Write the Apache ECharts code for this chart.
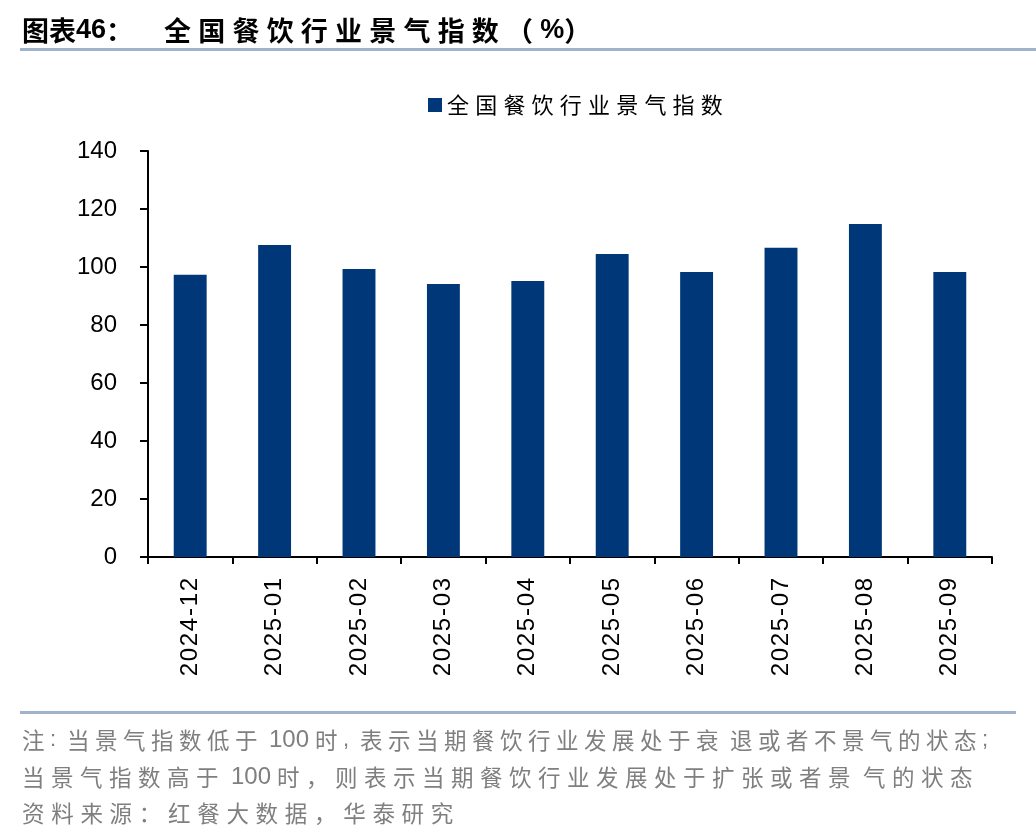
<!DOCTYPE html>
<html><head><meta charset="utf-8">
<script src="https://cdn.jsdelivr.net/npm/echarts@6/dist/echarts.min.js"></script>
<style>html,body{margin:0;padding:0;background:#fff}#c{width:1036px;height:840px}</style>
</head><body><div id="c"></div>
<script>
const categories = ['2024-12','2025-01','2025-02','2025-03','2025-04','2025-05','2025-06','2025-07','2025-08','2025-09'];
const indexValues = [97.3, 107.6, 99.3, 94.1, 95.2, 104.5, 98.3, 106.6, 114.8, 98.3];
const yTicks = [0, 20, 40, 60, 80, 100, 120, 140];
const seriesName = '全国餐饮行业景气指数';
const titleHead = '图表46：';
const titleBody = '全国餐饮行业景气指数（%）';
const footLines = [
  '注:当景气指数低于 100 时,表示当期餐饮行业发展处于衰 退或者不景气的状态;',
  '当景气指数高于 100 时，则表示当期餐饮行业发展处于扩张或者景 气的状态',
  '资料来源：红餐大数据，华泰研究'
];

const CJK = '"Noto Sans CJK SC", sans-serif';
const LAT = '"Liberation Sans", Arial, sans-serif';

// split a string into rich-text tokens: wide chars one by one, latin runs grouped
function richify(str) {
  const out = [];
  let run = '';
  const flush = () => { if (run) { out.push('{a|' + run + '}'); run = ''; } };
  for (const ch of str) {
    const code = ch.codePointAt(0);
    if (ch === ' ') { flush(); out.push('{s|\u00a0}'); }
    else if (':,;'.includes(ch)) { flush(); out.push('{p|' + ch + '}'); }
    else if (code > 0x2e80) { flush(); out.push('{c|' + ch + '}'); }
    else run += ch;
  }
  flush();
  return out.join('');
}
function footRich(pitch) {
  return {
    c: {width: pitch, fontFamily: CJK, fontSize: 22.5, fill: '#7f7f7f', lineHeight: 27},
    a: {fontFamily: LAT, fontSize: 24, fill: '#7f7f7f', lineHeight: 27},
    s: {width: 6, fontFamily: LAT, fontSize: 20, fill: '#7f7f7f', lineHeight: 27},
    p: {width: 17, fontFamily: LAT, fontSize: 22, fill: '#7f7f7f', lineHeight: 27}
  };
}

const chart = echarts.init(document.getElementById('c'));
chart.setOption({
  backgroundColor: '#fff',
  animation: false,
  legend: {
    data: [seriesName], left: 423, top: 89, itemWidth: 14, itemHeight: 14,
    icon: 'rect',
    formatter: name => name.split('').map(c => '{c|' + c + '}').join(''),
    textStyle: {rich: {c: {width: 28.2, fontFamily: CJK, fontSize: 22, color: '#000', lineHeight: 26}}}
  },
  grid: {left: 148, right: 44, top: 151, bottom: 283, containLabel: false},
  xAxis: {
    type: 'category', data: categories, boundaryGap: true,
    axisLine: {lineStyle: {color: '#000', width: 2}},
    axisTick: {show: true, alignWithLabel: false, length: 7, lineStyle: {color: '#000', width: 2}},
    axisLabel: {
      rotate: 90, color: '#000', margin: 21, interval: 0,
      formatter: v => v.split('').map(ch => (ch === '-' ? '{h|-}' : '{d|' + ch + '}')).join(''),
      rich: {
        d: {width: 15, fontSize: 24, fontFamily: LAT, color: '#000'},
        h: {width: 10, fontSize: 24, fontFamily: LAT, color: '#000'}
      }
    }
  },
  yAxis: {
    type: 'value', min: yTicks[0], max: yTicks[yTicks.length - 1], interval: yTicks[1] - yTicks[0],
    axisLine: {show: true, lineStyle: {color: '#000', width: 2}},
    axisTick: {show: true, length: 8, lineStyle: {color: '#000', width: 2}},
    splitLine: {show: false},
    axisLabel: {fontSize: 24, color: '#000', fontFamily: LAT, margin: 31}
  },
  series: [{
    name: seriesName, type: 'bar', data: indexValues, barWidth: '39%',
    itemStyle: {color: '#003778'}
  }],
  graphic: [
    {type: 'text', x: 22, y: 31, style: {
      text: titleHead.split('').map(c => /[0-9]/.test(c) ? '{n|' + c + '}' : '{h|' + c + '}').join('') + '{s|\u00a0}' +
            titleBody.split('').map(c => c === '%' ? '{n|%}' : '{b|' + c + '}').join(''),
      verticalAlign: 'middle',
      rich: {
        h: {width: 27, fontFamily: CJK, fontSize: 27, fontWeight: 'bold', fill: '#000'},
        b: {width: 34.2, fontFamily: CJK, fontSize: 27, fontWeight: 'bold', fill: '#000'},
        n: {fontFamily: LAT, fontSize: 27, fontWeight: 'bold', fill: '#000'},
        s: {width: 31, fontFamily: LAT, fontSize: 20, fill: '#000'}
      }
    }},
    {type: 'rect', shape: {x: 20, y: 48, width: 1016, height: 3}, style: {fill: '#9fb3cc'}},
    {type: 'rect', shape: {x: 20, y: 711, width: 996, height: 3}, style: {fill: '#9fb3cc'}},
    {type: 'text', x: 22, y: 740, style: {text: richify(footLines[0]), verticalAlign: 'middle', rich: footRich(28)}},
    {type: 'text', x: 22, y: 777, style: {text: richify(footLines[1]), verticalAlign: 'middle', rich: footRich(29)}},
    {type: 'text', x: 22, y: 813, style: {text: richify(footLines[2]), verticalAlign: 'middle', rich: footRich(29.2)}}
  ]
});
</script></body></html>
